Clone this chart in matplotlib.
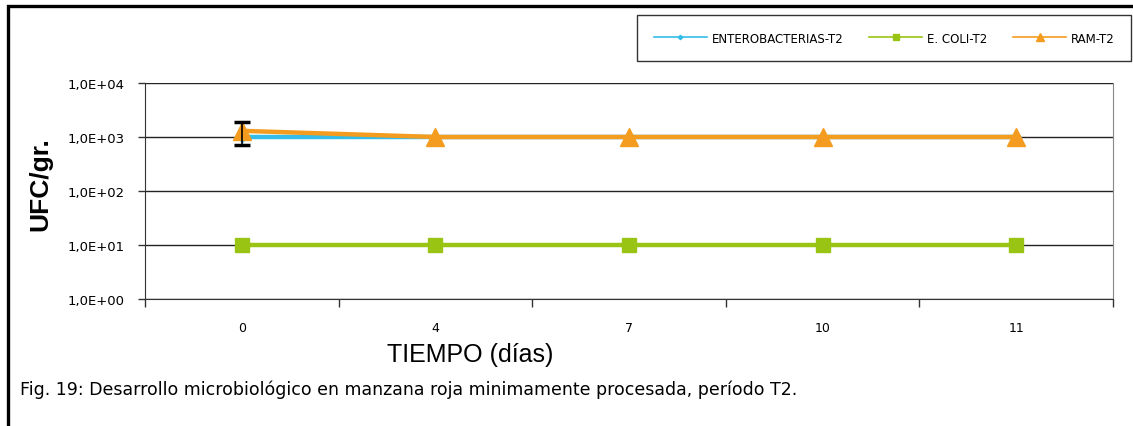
import matplotlib.pyplot as plt
import numpy as np
from matplotlib.patches import Rectangle
from matplotlib.ticker import FixedLocator, FuncFormatter, NullFormatter

plt.rcParams['font.family'] = ['DejaVu Sans']

# Datos
dias = ['0', '4', '7', '10', '11']
entero = [1000, 1000, 1000, 1000, 1000]
ecoli = [10, 10, 10, 10, 10]
ram = [1300, 1000, 1000, 1000, 1000]
ram_err = [580, 0, 0, 0, 0]

c_entero = '#33BDE8'
c_ecoli = '#9AC413'
c_ram = '#F49C1F'

fig = plt.figure(figsize=(11.33, 4.27), dpi=100)
ax = fig.add_axes([0.128, 0.2974, 0.8543, 0.5059])

x = np.arange(len(dias))

ax.plot(x, entero, color=c_entero, lw=3.2, marker='D', ms=5, zorder=3,
        label='ENTEROBACTERIAS-T2')
ax.plot(x, ecoli, color=c_ecoli, lw=3.2, marker='s', ms=9.5, zorder=3,
        label='E. COLI-T2')
ax.plot(x, ram, color=c_ram, lw=3.2, marker='^', ms=13, zorder=4,
        label='RAM-T2')

# Barra de error solo donde hay dato
err = np.array(ram_err)
m = err > 0
ax.errorbar(x[m], np.array(ram)[m], yerr=err[m], fmt='none', ecolor='black',
            elinewidth=1.2, capsize=6, capthick=2.5, zorder=5)

ax.set_yscale('log')
ax.set_ylim(1, 1e4)
ax.set_xlim(-0.5, len(dias) - 0.5)

ax.yaxis.set_major_locator(FixedLocator([1, 10, 100, 1000, 10000]))
ax.yaxis.set_minor_locator(FixedLocator([]))
ax.yaxis.set_major_formatter(FuncFormatter(
    lambda v, p: '1,0E+%02d' % int(round(np.log10(v)))))
ax.grid(axis='y', color='#222222', lw=1.0)

ax.xaxis.set_major_locator(FixedLocator(np.arange(-0.5, len(dias), 1.0)))
ax.xaxis.set_major_formatter(NullFormatter())
ax.xaxis.set_minor_locator(FixedLocator(x))
ax.set_xticklabels(dias, minor=True)
ax.tick_params(axis='x', which='major', length=6, width=1, color='#333333')
ax.tick_params(axis='x', which='minor', length=0, labelsize=9, pad=16)
ax.tick_params(axis='y', length=5, width=1, color='#333333', labelsize=9.5, pad=10)

ax.spines['top'].set_visible(False)
ax.spines['right'].set_color('#888888')
ax.spines['left'].set_color('#333333')
ax.spines['bottom'].set_color('#333333')

fig.text(0.036, 0.57, 'UFC/gr.', family='Liberation Sans', rotation=90,
         fontsize=19, fontweight='bold', ha='center', va='center')
fig.text(0.415, 0.168, 'TIEMPO (días)', family='Liberation Sans', fontsize=18,
         ha='center', va='center')
fig.text(0.018, 0.087, 'Fig. 19: Desarrollo microbiológico en manzana roja '
         'minimamente procesada, período T2.', fontsize=12.5, ha='left',
         va='center')

leg = fig.legend(loc='upper right', bbox_to_anchor=(0.9985, 0.9625), ncol=3,
                 fontsize=8.5, frameon=True, fancybox=False, edgecolor='black',
                 handlelength=4.5, markerscale=0.45, columnspacing=2.2,
                 borderpad=1.4, handletextpad=0.4, borderaxespad=0)
leg.get_frame().set_linewidth(1.0)
for line in leg.get_lines():
    line.set_linewidth(1.2)

# Marco exterior
fig.patches.append(Rectangle((0.0075, -0.05), 1.1, 1.0336, fill=False,
                             edgecolor='black', lw=2.4,
                             transform=fig.transFigure, figure=fig))

fig.savefig('out.png', dpi=100)
